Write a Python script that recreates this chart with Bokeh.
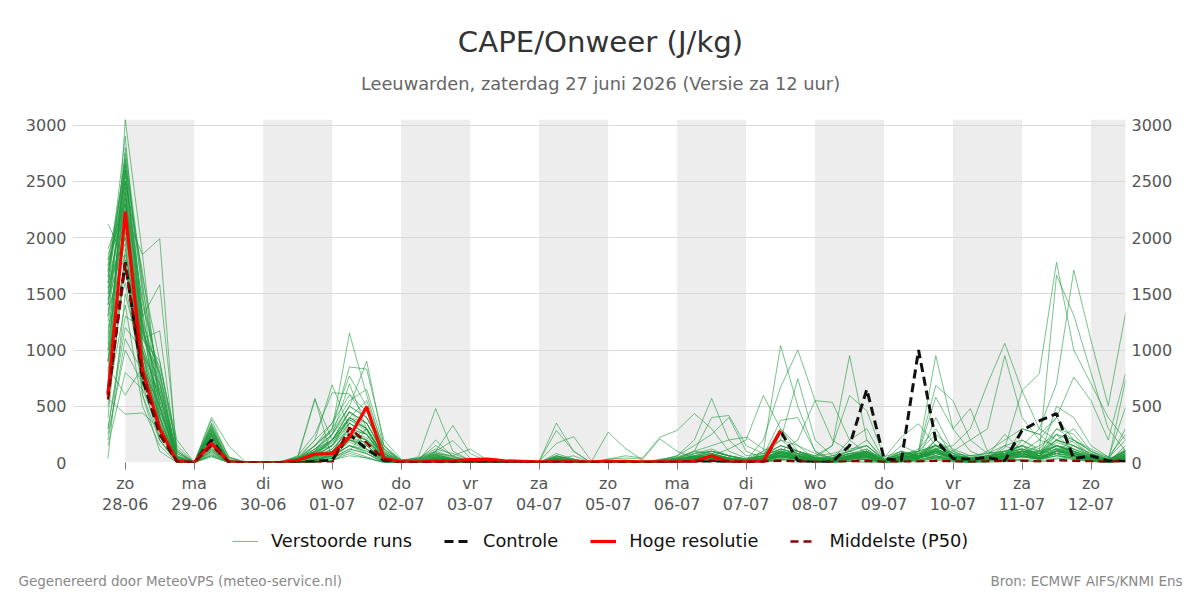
from datetime import datetime, timedelta
from bokeh.plotting import figure
from bokeh.layouts import column
from bokeh.models import (ColumnDataSource, Range1d, LinearAxis, FixedTicker,
                          Legend, LegendItem)
from bokeh.core.properties import value
from bokeh.embed import file_html
from bokeh.resources import INLINE

# ---------------- data (J/kg), 6-hourly from za 27-06 18 UTC ----------------
start_time = datetime(2026, 6, 27, 18)
step_hours = 6

hres = [600, 2230, 820, 300, 10, 0, 170, 5, 0, 0,
        0, 20, 75, 80, 225, 495, 35, 5, 5, 10,
        15, 25, 30, 15, 10, 5, 5, 5, 5, 10,
        10, 5, 5, 5, 10, 60, 5, 5, 10, 285]

control = [620, 1780, 750, 250, 10, 0, 200, 0, 0, 0,
           0, 0, 10, 20, 250, 120, 20, 0, 0, 5,
           5, 5, 0, 0, 0, 0, 5, 5, 0, 0,
           0, 0, 0, 0, 5, 5, 0, 0, 5, 280,
           15, 0, 5, 150, 650, 35, 15, 1000, 195, 35,
           30, 45, 15, 285, 370, 435, 35, 60, 15, 10]

median = [560, 1770, 780, 260, 10, 0, 150, 5, 0, 0,
          0, 0, 5, 0, 310, 175, 30, 0, 0, 5,
          5, 0, 0, 0, 0, 0, 5, 0, 0, 0,
          0, 0, 0, 5, 10, 15, 10, 5, 10, 15,
          10, 5, 5, 10, 15, 5, 5, 10, 15, 10,
          5, 10, 15, 15, 10, 20, 15, 10, 5, 15]

run01 = [1800,2650,1200,400,20,0,250,10,0,0, 0,10,60,150,400,300,40,0,10,60, 20,5,0,0,0,0,40,10,0,20, 0,0,10,20,40,30,10,0,20,100, 60,20,0,30,80,10,0,100,950,300, 100,40,80,150,60,200,300,100,20,60]
run02 = [1500,2400,900,300,10,0,180,0,0,0, 0,0,20,80,350,250,20,0,0,20, 10,0,0,0,0,0,10,0,0,0, 0,10,0,30,20,60,20,10,50,300, 150,30,20,10,40,0,10,30,200,50, 10,60,250,100,40,500,400,150,50,10]
run03 = [600,3050,1850,500,40,0,300,20,0,0, 0,20,150,300,1150,600,100,10,50,480, 100,20,10,0,0,0,20,0,0,0, 0,0,20,40,100,80,30,20,60,150, 100,50,30,200,300,20,50,100,150,60, 30,100,200,300,250,400,200,100,40,200]
run04 = [2120,1800,700,200,0,0,120,0,0,0, 0,0,0,40,100,300,20,0,0,10, 0,0,0,10,0,0,60,20,0,0, 0,0,0,10,30,20,0,0,100,1040, 500,100,0,20,60,0,0,50,150,80, 20,30,60,80,150,250,100,30,10,40]
run05 = [1450,2200,1850,1990,0,0,350,50,0,0, 0,30,100,200,450,350,80,0,20,200, 50,10,0,0,0,0,30,60,0,10, 0,0,0,20,50,100,60,20,30,80, 40,10,0,30,100,20,150,80,30,10, 0,50,20,60,100,150,80,40,10,100]
run06 = [900,2700,1300,1580,100,0,200,0,0,0, 0,0,30,250,500,900,150,0,0,30, 20,0,0,0,0,0,0,10,0,0, 20,0,0,10,30,50,20,10,0,60, 30,10,60,100,200,30,100,40,200,100, 40,20,100,50,30,100,200,60,20,300]
run07 = [1650,2500,1100,1170,30,0,280,0,0,0, 0,10,80,100,300,200,50,0,0,50, 30,0,0,0,0,10,350,100,0,0, 0,10,0,0,60,30,10,0,20,40, 80,20,10,40,20,0,60,120,300,40, 60,30,10,200,100,80,150,80,30,50]
run08 = [570,430,440,300,0,0,100,0,0,0, 0,0,0,50,150,80,0,0,0,0, 0,0,10,0,0,0,0,0,0,0, 0,0,0,20,0,10,0,0,0,20, 0,0,0,10,30,0,10,0,20,0, 0,0,10,20,0,30,60,20,0,10]
run09 = [35,1500,900,200,0,0,220,0,0,0, 0,20,50,100,200,150,30,0,0,10, 0,0,0,0,0,0,20,0,0,0, 0,0,10,0,0,50,30,20,200,670, 1000,550,200,100,50,10,20,60,40,80, 30,20,100,50,60,80,20,10,0,150]
run10 = [1900,2300,1000,600,50,0,400,150,0,0, 0,50,200,350,600,400,120,20,30,150, 60,10,0,10,0,0,80,30,0,10, 0,0,20,60,200,570,200,60,80,200, 100,40,20,60,120,10,30,80,160,50, 20,40,150,80,60,300,250,80,20,100]
run11 = [1300,2600,1150,700,80,0,260,0,0,0, 10,50,570,30,200,300,40,0,0,40, 20,0,0,0,0,0,30,20,0,0, 0,0,0,20,40,20,10,0,10,120, 80,30,10,50,80,0,60,30,100,40, 10,20,50,100,80,120,60,20,10,30]
run12 = [400,1900,850,500,20,0,150,0,0,0, 0,0,30,100,250,200,30,0,0,20, 0,10,0,0,0,0,0,0,0,30, 40,30,210,100,40,20,0,10,0,30, 20,0,0,10,0,0,20,10,50,20, 0,10,30,20,10,40,30,10,0,20]
run13 = [1700,2550,1400,800,150,0,330,20,0,0, 0,40,100,300,850,830,200,30,0,100, 330,80,10,0,0,0,40,10,0,0, 0,0,10,0,80,120,60,30,100,200, 150,80,40,100,150,30,80,100,250,120, 60,80,150,200,120,300,200,120,50,250]
run14 = [300,1200,1000,400,10,0,80,0,0,0, 0,0,10,20,100,50,0,0,0,0, 0,0,0,0,0,0,10,0,0,0, 0,0,0,10,20,40,10,0,50,200, 745,200,60,30,100,0,20,60,100,30, 10,30,20,60,40,100,80,30,0,60]
run15 = [1100,2450,600,100,0,0,60,0,0,0, 0,0,0,20,80,40,0,0,0,0, 0,0,0,0,0,10,285,100,0,0, 0,0,10,0,20,10,0,0,10,30, 20,0,0,10,0,0,30,10,40,10, 0,0,20,30,20,60,40,10,0,20]
run16 = [1600,2000,800,650,40,0,240,0,0,0, 0,10,60,200,350,250,60,0,10,40, 10,0,0,0,0,0,30,10,0,0, 0,0,30,50,100,150,200,225,120,80, 60,20,30,80,40,10,50,30,120,60, 40,20,50,100,80,200,150,50,10,80]
run17 = [800,2800,1600,500,30,0,320,0,0,0, 0,30,200,690,300,150,30,0,20,80, 30,0,0,0,0,0,60,20,0,0, 0,0,0,40,60,30,20,0,40,100, 60,20,40,80,100,0,40,60,200,80, 30,50,100,150,60,250,180,60,20,120]
run18 = [1750,2350,950,350,0,0,190,0,0,0, 0,0,20,80,200,180,20,0,0,30, 0,0,0,0,0,0,0,0,0,0, 0,0,20,10,30,60,40,20,60,375, 400,100,30,60,20,0,30,80,60,20, 0,30,40,80,30,60,40,10,0,40]
run19 = [1200,1700,1250,780,60,0,270,30,0,0, 0,20,100,150,400,350,80,0,0,60, 20,0,0,0,0,10,170,230,20,0, 0,0,0,20,40,60,30,10,30,60, 30,10,20,50,80,20,100,50,150,60, 30,60,80,100,50,120,100,40,10,60]
run20 = [700,2150,1050,550,20,0,160,0,0,0, 0,0,40,100,250,200,40,0,0,20, 0,0,0,0,0,0,20,0,0,0, 0,0,0,10,20,40,30,10,40,100, 200,550,535,200,80,10,60,40,100,50, 20,40,60,100,80,150,100,40,10,80]
run21 = [1550,2750,1500,300,0,0,230,0,0,0, 0,40,560,200,450,300,60,0,0,50, 20,0,0,0,0,0,20,0,0,0, 0,0,0,10,30,50,20,0,20,50, 30,10,10,40,60,0,20,40,80,30, 10,20,40,60,30,100,60,20,0,40]
run22 = [250,1000,700,450,100,0,90,0,0,0, 0,0,10,60,180,120,10,0,0,10, 0,0,0,0,0,0,0,10,0,30, 60,40,225,285,435,300,100,40,60,150, 100,40,60,100,150,20,60,80,120,50, 20,60,80,120,90,150,120,60,20,100]
run23 = [1850,2250,1150,850,200,0,380,50,0,0, 0,60,250,620,610,450,150,20,40,120, 80,20,0,0,10,0,50,30,0,0, 0,0,20,30,60,100,60,20,80,150, 100,60,80,120,150,20,80,100,150,60, 40,60,100,150,100,200,150,80,30,100]
run24 = [1000,1600,750,350,0,0,140,0,0,0, 0,0,20,70,200,120,20,0,0,20, 0,0,0,0,0,0,10,0,0,0, 0,0,0,10,20,30,10,0,20,80, 100,60,150,595,460,50,100,60,100,40, 20,30,60,80,40,120,80,30,10,50]
run25 = [1400,2500,1700,600,50,0,300,10,0,0, 0,20,120,250,500,400,90,10,30,100, 195,40,0,0,0,0,60,30,0,10, 0,10,20,40,80,100,60,30,60,120, 80,40,30,60,100,20,80,60,130,50, 30,60,80,120,80,150,100,50,20,100]
run26 = [150,800,650,280,0,0,70,0,0,0, 0,0,0,40,120,80,0,0,0,0, 0,0,0,0,0,0,0,0,0,0, 0,0,0,0,10,30,20,0,10,30, 60,40,150,950,200,10,40,60,100,30, 10,40,50,60,30,80,50,20,0,30]
run27 = [1600,2900,1250,420,10,0,250,0,0,0, 0,30,150,350,770,500,100,10,20,70, 30,0,0,0,0,0,30,10,0,0, 0,0,10,20,40,60,40,20,40,90, 60,30,20,50,100,10,60,50,120,60, 30,40,70,100,60,180,120,50,20,90]
run28 = [900,2050,950,700,30,0,200,0,0,0, 0,10,60,150,350,250,50,0,0,30, 10,0,0,0,0,0,20,10,0,0, 0,0,0,30,100,400,418,150,80,100, 60,30,40,80,60,10,40,60,100,40, 20,30,60,80,40,100,80,30,10,60]
run29 = [1350,1850,1100,900,120,0,290,20,0,0, 0,30,120,200,400,300,80,10,30,80, 60,120,20,0,0,0,40,20,0,10, 0,0,10,30,50,80,40,20,40,100, 80,40,30,60,90,20,70,60,110,50, 30,50,80,100,60,150,100,50,20,80]
run30 = [600,1400,500,150,0,0,50,0,0,0, 0,0,0,20,60,40,0,0,0,0, 0,0,0,0,0,0,0,0,0,0, 0,0,0,0,20,60,120,200,595,300, 100,40,20,40,30,0,20,30,60,20, 0,20,30,50,30,60,40,20,0,30]
run31 = [1750,2600,1300,600,40,0,270,0,0,0, 0,20,100,250,700,300,60,0,10,60, 30,0,0,0,0,0,30,10,0,0, 0,0,10,20,50,80,40,20,40,90, 60,30,20,60,100,10,50,60,120,50, 30,40,60,100,60,150,100,40,20,80]
run32 = [1150,2300,1450,750,20,0,230,0,0,0, 0,20,80,200,450,350,70,0,0,40, 20,0,0,0,0,0,20,10,0,0, 0,0,0,20,40,60,30,10,30,70, 50,20,20,50,80,10,60,100,685,550, 200,80,100,120,60,150,100,40,10,70]
run33 = [500,1750,800,320,0,0,130,0,0,0, 0,0,20,80,200,150,20,0,0,20, 0,0,0,0,0,0,10,0,0,270, 125,20,0,10,20,40,20,10,20,50, 30,10,10,30,50,0,30,20,60,30, 10,20,40,60,30,80,60,20,0,40]
run34 = [1500,2450,1000,250,0,0,210,0,0,0, 0,10,50,120,300,250,40,0,0,30, 10,0,0,0,0,0,20,0,0,0, 0,0,0,10,30,50,20,10,30,60, 40,20,10,40,60,0,40,40,80,40, 20,30,50,70,40,100,70,30,10,50]
run35 = [850,600,850,500,60,0,110,0,0,0, 0,0,20,60,150,100,10,0,0,10, 0,0,0,0,0,0,0,0,0,0, 0,0,20,60,150,250,400,100,40,60, 40,20,10,30,50,0,30,20,50,20, 10,20,30,50,30,80,50,20,0,30]
run36 = [1250,2150,900,400,10,0,180,0,0,0, 0,10,40,100,250,200,40,0,0,20, 0,0,0,0,0,0,10,0,0,0, 0,0,0,10,20,40,20,10,30,60, 40,20,10,40,100,40,225,345,150,60, 30,40,60,80,40,100,80,30,10,50]
run37 = [1650,2700,1550,700,80,0,310,20,0,0, 0,40,150,300,550,650,150,20,30,90, 40,10,0,0,0,0,40,20,0,0, 0,0,10,30,60,100,60,30,60,120, 80,40,30,70,100,20,80,70,150,60, 40,60,80,120,80,200,150,60,20,110]
run38 = [300,1300,1200,600,30,0,100,0,0,0, 0,0,20,60,150,100,10,0,0,10, 0,0,0,0,0,0,0,0,0,0, 0,0,0,10,20,30,10,0,20,50, 30,10,10,30,60,10,40,80,580,300, 480,100,50,80,40,100,60,20,0,40]
run39 = [1800,2200,1000,500,0,0,200,0,0,0, 0,10,60,150,350,250,50,0,0,30, 10,0,0,0,0,0,20,0,0,0, 0,0,0,20,40,60,30,10,30,70, 50,20,10,40,70,0,40,40,90,40, 20,30,50,80,40,110,80,30,10,60]
run40 = [1000,2400,1200,650,50,0,260,10,0,0, 0,20,100,200,400,550,120,10,20,70, 30,0,0,0,0,0,30,10,0,0, 0,0,10,20,50,70,40,20,40,90, 60,30,20,50,90,10,60,50,110,50, 30,40,70,90,50,130,90,40,10,70]
run41 = [1450,1950,700,380,0,0,170,0,0,0, 0,0,30,90,220,180,30,0,0,20, 0,0,0,0,0,0,10,0,0,0, 0,0,0,10,20,40,20,10,20,50, 30,10,10,30,50,0,30,30,400,100, 40,20,40,60,30,80,60,20,0,40]
run42 = [700,2600,1100,800,40,0,290,0,0,0, 0,30,120,250,450,350,80,0,20,70, 30,0,0,0,0,0,30,10,0,0, 0,0,10,30,50,80,40,20,50,100, 70,30,30,60,100,10,60,60,120,150, 300,700,1060,640,300,200,120,60,20,100]
run43 = [1550,2000,1350,450,20,0,240,0,0,0, 0,20,80,180,380,280,60,0,10,50, 20,0,0,0,0,0,20,10,0,0, 0,0,0,20,40,60,30,10,40,80, 50,20,20,50,80,10,50,40,100,100, 200,300,950,400,200,150,80,30,10,60]
run44 = [200,1100,800,350,0,0,60,0,0,0, 0,0,10,40,120,80,0,0,0,0, 0,0,0,0,0,0,0,0,0,0, 0,0,0,10,10,20,10,0,10,30, 20,10,0,20,30,0,20,10,40,20, 10,30,130,640,790,1780,1000,700,400,200]
run45 = [1300,2350,1050,550,30,0,230,0,0,0, 0,20,80,180,380,300,60,0,0,40, 20,0,0,0,0,0,20,10,0,0, 0,0,0,20,40,60,30,10,30,70, 50,20,20,40,70,10,40,40,90,40, 20,40,60,100,100,1665,1310,800,300,100]
run46 = [1700,2500,1250,300,10,0,250,0,0,0, 0,20,90,200,400,300,60,0,0,40, 20,0,0,0,0,0,30,10,0,0, 0,0,10,20,40,60,30,10,40,80, 60,30,20,50,80,10,50,50,100,50, 30,50,80,150,300,700,1710,1085,505,1325]
run47 = [900,1800,600,200,0,0,120,0,0,0, 0,0,20,60,150,120,20,0,0,10, 0,0,0,0,0,0,10,0,0,0, 0,0,0,10,20,30,20,0,20,50, 30,10,10,30,50,0,30,20,60,30, 20,30,60,100,200,400,760,550,200,790]
run48 = [1400,2650,1650,900,100,0,340,40,0,0, 0,40,150,280,500,400,120,20,40,100, 50,20,0,0,0,0,50,20,0,10, 0,0,20,40,80,100,60,30,60,120, 80,50,40,80,120,20,80,80,150,80, 60,80,100,150,100,250,200,100,40,490]
run49 = [1050,2100,950,480,20,0,200,0,0,0, 0,10,60,150,300,250,50,0,0,30, 10,0,0,0,0,0,20,0,0,0, 0,0,0,20,30,50,30,10,30,60, 40,20,10,40,70,0,40,40,80,40, 20,30,50,300,250,120,80,30,10,730]
run50 = [1600,2300,850,400,0,0,190,0,0,0, 0,10,50,120,280,220,40,0,0,30, 10,0,0,0,0,0,20,0,0,0, 0,0,0,10,30,50,20,10,30,60, 40,20,10,40,60,0,40,40,80,40, 20,30,50,80,40,100,70,30,10,50]

runs = [run01, run02, run03, run04, run05, run06, run07, run08, run09, run10,
        run11, run12, run13, run14, run15, run16, run17, run18, run19, run20,
        run21, run22, run23, run24, run25, run26, run27, run28, run29, run30,
        run31, run32, run33, run34, run35, run36, run37, run38, run39, run40,
        run41, run42, run43, run44, run45, run46, run47, run48, run49, run50]

day_ticks = ["2026-06-28", "2026-06-29", "2026-06-30", "2026-07-01", "2026-07-02",
             "2026-07-03", "2026-07-04", "2026-07-05", "2026-07-06", "2026-07-07",
             "2026-07-08", "2026-07-09", "2026-07-10", "2026-07-11", "2026-07-12"]
day_labels = ["zo\n28-06", "ma\n29-06", "di\n30-06", "wo\n01-07", "do\n02-07",
              "vr\n03-07", "za\n04-07", "zo\n05-07", "ma\n06-07", "di\n07-07",
              "wo\n08-07", "do\n09-07", "vr\n10-07", "za\n11-07", "zo\n12-07"]
shaded_days = ["2026-06-28", "2026-06-30", "2026-07-02", "2026-07-04",
               "2026-07-06", "2026-07-08", "2026-07-10", "2026-07-12"]
y_ticks = [0, 500, 1000, 1500, 2000, 2500, 3000]

title_text = "CAPE/Onweer (J/kg)"
subtitle_text = "Leeuwarden, zaterdag 27 juni 2026 (Versie za 12 uur)"
footer_left = "Gegenereerd door MeteoVPS (meteo-service.nl)"
footer_right = "Bron: ECMWF AIFS/KNMI Ens"
legend_labels = ["Verstoorde runs", "Controle", "Hoge resolutie", "Middelste (P50)"]

# ---------------- styles ----------------
FONT = "DejaVu Sans"
ENS_STYLE = dict(line_color="#1e9a3c", line_alpha=0.6, line_width=1)
CTRL_STYLE = dict(line_color="#111111", line_width=3, line_dash="9 5")
HRES_STYLE = dict(line_color="#ff0000", line_width=3.2)
MED_STYLE = dict(line_color="#8b0000", line_width=2.5, line_dash="8 5")


def ms(dt):
    return (dt - datetime(1970, 1, 1)).total_seconds() * 1000.0


def times(n):
    return [start_time + timedelta(hours=step_hours * i) for i in range(n)]


def blank_fig(height, y0, y1):
    f = figure(width=1200, height=height, x_range=Range1d(0, 1200),
               y_range=Range1d(y1, y0), x_axis_location=None,
               y_axis_location=None, output_backend="svg",
               toolbar_location=None, title=None, min_border=0)
    f.outline_line_color = None
    f.xgrid.visible = False
    f.ygrid.visible = False
    if "frame_align" in f.properties():
        f.frame_align = False
    return f


# ---------------- header ----------------
head = blank_fig(100, 0, 100)
head.text(x=[600], y=[41], text=[title_text], text_align="center",
          text_baseline="middle", text_font=value(FONT),
          text_font_size=value("29.2px"), text_color="#333333")
head.text(x=[600], y=[83], text=[subtitle_text], text_align="center",
          text_baseline="middle", text_font=value(FONT),
          text_font_size=value("17.8px"), text_color="#666666")

# ---------------- main chart ----------------
x_start = datetime(2026, 6, 27, 6)
x_end = datetime(2026, 7, 12, 12)

p = figure(width=1200, height=420, x_axis_type="datetime",
           x_range=Range1d(x_start, x_end), y_range=Range1d(0, 3050),
           output_backend="svg", toolbar_location=None, title=None,
           min_border_left=73, min_border_right=75, min_border_top=19,
           min_border_bottom=58)
p.outline_line_color = None
p.background_fill_color = "white"
p.border_fill_color = "white"
if "frame_align" in p.properties():
    p.frame_align = False

sd = [datetime.strptime(d, "%Y-%m-%d") for d in shaded_days]
shade = p.quad(left=sd, right=[d + timedelta(days=1) for d in sd],
               bottom=0, top=3050, fill_color="#ededed", line_color=None)
shade.level = "image"

p.xgrid.visible = False
p.ygrid.grid_line_color = "#d9d9d9"
p.ygrid.grid_line_width = 1
p.ygrid.ticker = FixedTicker(ticks=y_ticks)

ens_src = ColumnDataSource(dict(xs=[times(len(r)) for r in runs], ys=runs))
p.multi_line("xs", "ys", source=ens_src, **ENS_STYLE)
p.line(times(len(control)), control, **CTRL_STYLE)
p.line(times(len(hres)), hres, **HRES_STYLE)
p.line(times(len(median)), median, **MED_STYLE)

tick_ms = [ms(datetime.strptime(d, "%Y-%m-%d")) for d in day_ticks]
xax = p.xaxis[0]
xax.ticker = FixedTicker(ticks=tick_ms)
xax.major_label_overrides = {t: lab for t, lab in zip(tick_ms, day_labels)}
xax.axis_line_color = None
xax.major_tick_line_color = "#777777"
xax.major_tick_in = 0
xax.major_tick_out = 7
xax.minor_tick_line_color = None
xax.major_label_text_font = FONT
xax.major_label_text_font_size = "16px"
xax.major_label_text_color = "#555555"
xax.major_label_standoff = 4
xax.major_label_text_line_height = 1.13

yl = p.yaxis[0]
yr = LinearAxis()
p.add_layout(yr, "right")
for ax, stand in [(yl, 7), (yr, 6)]:
    ax.ticker = FixedTicker(ticks=y_ticks)
    ax.axis_line_color = None
    ax.major_tick_line_color = None
    ax.major_tick_in = 0
    ax.major_tick_out = 0
    ax.minor_tick_line_color = None
    ax.minor_tick_in = 0
    ax.minor_tick_out = 0
    ax.major_label_text_font = FONT
    ax.major_label_text_font_size = "16px"
    ax.major_label_text_color = "#555555"
    ax.major_label_standoff = stand

# ---------------- footer with legend ----------------
# legend proxies reuse the real series; their x lies far outside this panel's range
foot = blank_fig(80, 520, 600)
lg_ens = foot.multi_line(xs=[times(len(run01))], ys=[run01], **ENS_STYLE)
lg_ctrl = foot.line(times(len(control)), control, **CTRL_STYLE)
lg_hres = foot.line(times(len(hres)), hres, **HRES_STYLE)
lg_med = foot.line(times(len(median)), median, **MED_STYLE)
legend = Legend(items=[LegendItem(label=lab, renderers=[r]) for lab, r in
                       zip(legend_labels, [lg_ens, lg_ctrl, lg_hres, lg_med])],
                orientation="horizontal", location=(232, 49))
legend.border_line_color = None
legend.background_fill_alpha = 0
legend.padding = 0
legend.margin = 0
legend.spacing = 32
legend.label_standoff = 13
legend.glyph_width = 26
legend.glyph_height = 20
legend.label_height = 20
legend.label_text_font = FONT
legend.label_text_font_size = "17.8px"
legend.label_text_color = "#111111"
legend.label_text_baseline = "middle"
foot.add_layout(legend, "center")

foot.text(x=[18], y=[580], text=[footer_left], text_align="left",
          text_baseline="middle", text_font=value(FONT),
          text_font_size=value("13.5px"), text_color="#888888")
foot.text(x=[1182], y=[580], text=[footer_right], text_align="right",
          text_baseline="middle", text_font=value(FONT),
          text_font_size=value("13.5px"), text_color="#888888")

layout = column(head, p, foot, spacing=0)
open("out.html", "w").write(file_html(layout, INLINE))
